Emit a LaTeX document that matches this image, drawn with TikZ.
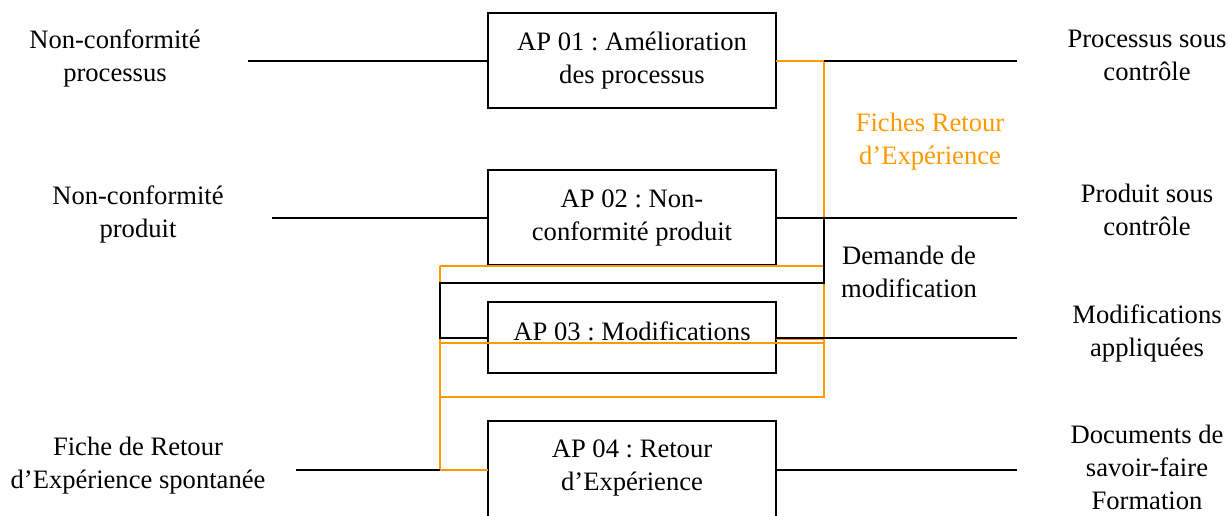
\documentclass[tikz,border=0pt]{standalone}
\usepackage{fontspec}
\setmainfont{Liberation Serif}
\usetikzlibrary{positioning}
\definecolor{cOrange}{HTML}{FF9900}
\frenchspacing

\begin{document}
\begin{tikzpicture}[x=0.5pt,y=-0.5pt,font=\fontsize{13.3}{16.5}\selectfont,
   ap/.style={draw,line width=1pt,align=center,minimum width=144pt,minimum height=47.5pt,inner sep=0pt,outer sep=0pt},
   lbl/.style={align=center,inner sep=0pt},
   flow/.style={line width=1pt},
   rex/.style={line width=1pt,draw=cOrange}]
  \useasboundingbox (0,0) rectangle (1229,515);
  \clip (0,0) rectangle (1229,515);
  % processus
  \node[ap] (ap1) at (632,60.5) {AP 01 : Amélioration\\ des processus};
  \node[ap,below=31pt of ap1] (ap2) {AP 02 : Non-\\ conformité produit};
  \node[ap,below=18.5pt of ap2,minimum height=35.5pt] (ap3) {\raisebox{3pt}[\height][\depth]{AP 03 : Modifications}};
  \node[ap,below=24pt of ap3,minimum height=48.5pt] (ap4) {\raisebox{1pt}[\height][\depth]{AP 04 : Retour}\\ \raisebox{1pt}[\height][\depth]{d’Expérience}};
  % entrees / sorties
  \node[lbl] (nc1) at (115,58) {Non-conformité\\ processus};
  \node[lbl] (nc2) at (138,214) {Non-conformité\\ produit};
  \node[lbl] (frs) at (138,466) {Fiche de Retour\\ d’Expérience spontanée};
  \node[lbl] (psc) at (1147,55) {Processus sous\\ contrôle};
  \node[lbl] (prc) at (1147,210) {Produit sous\\ contrôle};
  \node[lbl] (mda) at (1147,333) {Modifications\\ appliquées};
  \node[lbl] (dsf) at (1147,467) {Documents de\\ savoir-faire\\ Formation};
  \node[lbl,text=cOrange] (frx) at (930,142) {Fiches Retour\\ d’Expérience};
  \node[lbl] (ddm) at (909,272) {Demande de\\ modification};
  \coordinate (in1) at (248,60.5);
  \coordinate (in2) at (272,217.5);
  \coordinate (in3) at (296,469.5);
  \coordinate (out1) at (1017,60.5);
  \coordinate (busN) at (824,60.5);
  \coordinate (busS) at (824,397);
  \coordinate (busSW) at (440,397);
  \coordinate (busNW) at (440,266);
  \coordinate (rexM) at (440,343);
  \coordinate (dm1) at (824,217.5);
  \coordinate (dm3) at (440,283);
  % retour d'experience
  \draw[rex] (ap1.east) -- (busN) -- (busS) -- (busSW);
  \draw[rex] (busNW) -- (busNW -| busN);
  \draw[rex] (rexM) -- (rexM -| busN);
  \draw[rex] (busNW) |- (ap4.west);
  \draw[rex] ([yshift=-0.6pt]ap3.east) -- ([yshift=-0.6pt]ap3.east -| busN);
  % flux
  \draw[flow] (in1) -- (ap1.west);
  \draw[flow] (in2) -- (ap2.west);
  \draw[flow] (in3) -- (in3 -| busNW);
  \draw[flow] (busN) -- (out1);
  \draw[flow] (ap2.east) -- (ap2.east -| out1);
  \draw[flow] (ap3.east) -- (ap3.east -| out1);
  \draw[flow] (ap4.east) -- (ap4.east -| out1);
  \draw[flow] (ap2.east) -- (dm1) |- (dm3) |- (ap3.west);
\end{tikzpicture}
\end{document}
